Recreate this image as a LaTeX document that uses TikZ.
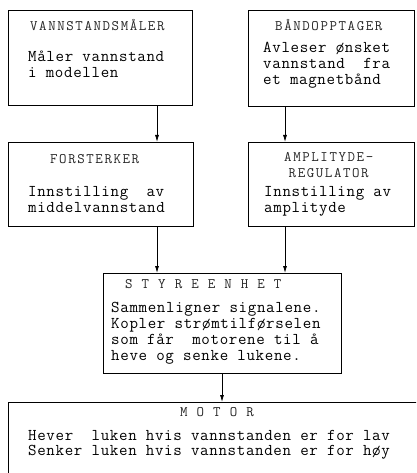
\documentclass[tikz,border=0pt]{standalone}
\usepackage{fontspec}
\newfontfamily\skrivemaskin{Latin Modern Mono}[LetterSpace=4]
\newfontfamily\overskrift{Latin Modern Mono}[LetterSpace=11]
\usetikzlibrary{arrows.meta, positioning}

\begin{document}
\begin{tikzpicture}[x=1pt, y=-1pt,
		box/.style={draw, line width=0.8pt, anchor=north west, inner sep=0pt},
		head/.style={anchor=north west, inner sep=0pt, align=center, font=\overskrift\fontsize{14.5}{16.5}\selectfont, text=black!85},
		body/.style={anchor=north west, inner sep=0pt, align=left, font=\skrivemaskin\fontsize{16.5}{16}\selectfont},
		arrow/.style={-{Latex[length=7pt, width=4pt]}, line width=0.8pt}
	]

	\useasboundingbox (0,0) rectangle (416,473);
	\clip (0,0) rectangle (416,473);

	% 1. Blokker
	\node[box, minimum width=184pt, minimum height=95pt] (vsm) at (8,10) {};
	\node[box, minimum width=166pt, minimum height=96pt] (bnd) at (248,10) {};
	\node[box, minimum width=185pt, minimum height=84pt] (fors) at (8,142) {};
	\node[box, minimum width=166pt, minimum height=84pt] (ampl) at (248,142) {};
	\node[box, minimum width=238pt, minimum height=100pt] (styr) at (103,273) {};
	\node[box, minimum width=430pt, minimum height=100pt] (motor) at (8,402) {};

	% 2. Tekst i blokkene
	\node[head] (vsm_head) at (30,19) {VANNSTANDSMÅLER};
	\node[body] (vsm_body) at (28,51) {Måler vannstand\\i modellen};

	\node[head] (bnd_head) at (275,19) {BÅNDOPPTAGER};
	\node[body] (bnd_body) at (263,42) {Avleser ønsket\\vannstand\ \ fra\\et magnetbånd};

	\node[head] (fors_head) at (50,154) {FORSTERKER};
	\node[body] (fors_body) at (28,186) {Innstilling\ \ av\\middelvannstand};

	\node[head] (ampl_head) at (284,152) {AMPLITYDE-\\REGULATOR};
	\node[body] (ampl_body) at (264,186) {Innstilling av\\amplityde};

	\node[head] (styr_head) at (125,279) {S T Y R E E N H E T};
	\node[body] (styr_body) at (111,302) {Sammenligner signalene.\\Kopler strømtilførselen\\som får\ \ motorene til å\\heve og senke lukene.};

	\node[head] (motor_head) at (180,407) {M O T O R};
	\node[body, font=\skrivemaskin\fontsize{16.5}{15}\selectfont] (motor_body) at (28,430) {Hever\ \ luken hvis vannstanden er for lav\\Senker luken hvis vannstanden er for høy};

	% 3. Piler
	\coordinate (a1) at (157,0);
	\coordinate (a2) at (285,0);
	\coordinate (a3) at (222,0);
	\draw[arrow] (vsm.south -| a1) -- (fors.north -| a1);
	\draw[arrow] (bnd.south -| a2) -- (ampl.north -| a2);
	\draw[arrow] (fors.south -| a1) -- (styr.north -| a1);
	\draw[arrow] (ampl.south -| a2) -- (styr.north -| a2);
	\draw[arrow] (styr.south -| a3) -- (motor.north -| a3);

\end{tikzpicture}
\end{document}
